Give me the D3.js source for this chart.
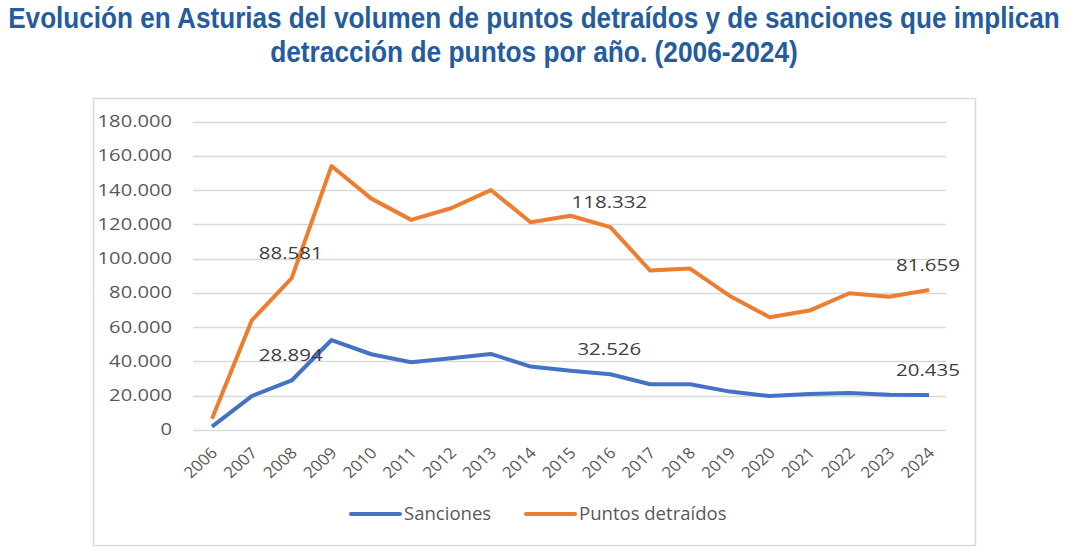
<!DOCTYPE html>
<html>
<head>
<meta charset="utf-8">
<script src="https://cdn.jsdelivr.net/npm/d3@7"></script>
<style>
  body { margin: 0; background: #fff; }
  svg { display: block; }
</style>
</head>
<body>
<div id="chart"></div>
<script>
// Data
var years = ["2006", "2007", "2008", "2009", "2010", "2011", "2012", "2013", "2014", "2015",
             "2016", "2017", "2018", "2019", "2020", "2021", "2022", "2023", "2024"];
var sanciones = [2000, 19800, 28894, 52500, 44200, 39500, 41800, 44400, 37000, 34600,
                 32526, 26700, 26700, 22400, 19800, 21000, 21600, 20600, 20435];
var puntos = [6500, 64000, 88581, 154000, 135000, 122600, 129400, 140000, 121200, 125000,
              118332, 93000, 94200, 78200, 65800, 69700, 79800, 77800, 81659];
var yTicks = [0, 20000, 40000, 60000, 80000, 100000, 120000, 140000, 160000, 180000];
var labelYears = ["2008", "2016", "2024"];

var w = 1075;
var h = 560;
var font = "'Open Sans', 'DejaVu Sans', sans-serif";

var svg = d3.select("#chart")
    .append("svg")
    .attr("width", w)
    .attr("height", h);

// Title (condensed bold: squeeze each line sideways to the reference width)
var titleLines = [
    { text: "Evolución en Asturias del volumen de puntos detraídos y de sanciones que implican", y: 28, len: 1052 },
    { text: "detracción de puntos por año. (2006-2024)", y: 62, len: 528 }
];
svg.selectAll("text.title")
    .data(titleLines)
    .enter()
    .append("text")
    .attr("class", "title")
    .attr("text-anchor", "middle")
    .style("font-family", "'Liberation Sans', Arial, sans-serif")
    .style("font-weight", "bold")
    .style("font-size", "30px")
    .style("fill", "#255C9C")
    .text(function(d) { return d.text; })
    .attr("transform", function(d) {
        var natural = this.getComputedTextLength();
        return "translate(534," + d.y + ") scale(" + (d.len / natural) + ",1)";
    });

// Chart frame
svg.append("rect")
    .attr("x", 93.5)
    .attr("y", 98.5)
    .attr("width", 882)
    .attr("height", 447)
    .style("fill", "none")
    .style("stroke", "#d9d9d9")
    .style("stroke-width", 1.5);

var xScale = d3.scalePoint()
    .domain(years)
    .range([212, 929]);

var yScale = d3.scaleLinear()
    .domain([0, 180000])
    .range([430, 121.5]);

var fmt = function(v) {
    return d3.format(",")(v).replace(/,/g, ".");
};

// Gridlines
svg.append("g")
    .selectAll("line")
    .data(yTicks)
    .enter()
    .append("line")
    .attr("x1", 193)
    .attr("x2", 946)
    .attr("y1", function(d) { return Math.round(yScale(d)) + 0.5; })
    .attr("y2", function(d) { return Math.round(yScale(d)) + 0.5; })
    .style("stroke", "#d9d9d9")
    .style("stroke-width", 1.5);

// Y axis labels (the reference text is stretched sideways)
var yAxis = d3.axisLeft(yScale)
    .tickValues(yTicks)
    .tickFormat(fmt)
    .tickSize(0)
    .tickPadding(0);
var yG = svg.append("g")
    .attr("transform", "translate(172,0)")
    .call(yAxis);
yG.select(".domain").remove();
yG.selectAll("text")
    .attr("transform", "scale(1.3,1)")
    .style("font-family", font)
    .style("font-size", "15.5px")
    .style("fill", "#595959");

// X axis labels (rotated)
var xAxis = d3.axisBottom(xScale)
    .tickSize(0)
    .tickPadding(0);
var xG = svg.append("g")
    .attr("transform", "translate(0,430)")
    .call(xAxis);
xG.select(".domain").remove();
xG.selectAll("text")
    .attr("text-anchor", "end")
    .attr("dy", 0)
    .attr("y", 0)
    .attr("transform", "translate(6,24) scale(1.1,1) rotate(-45)")
    .style("font-family", font)
    .style("font-size", "15.5px")
    .style("fill", "#595959");

var series = [
    { name: "Sanciones", values: sanciones, color: "#4472C4" },
    { name: "Puntos detraídos", values: puntos, color: "#ED7D31" }
];

var line = d3.line()
    .x(function(d, i) { return xScale(years[i]); })
    .y(function(d) { return yScale(d); });

svg.selectAll("path.series")
    .data(series)
    .enter()
    .append("path")
    .attr("class", "series")
    .attr("d", function(d) { return line(d.values); })
    .style("fill", "none")
    .style("stroke", function(d) { return d.color; })
    .style("stroke-width", 4)
    .style("stroke-linejoin", "round");

// Data labels
series.forEach(function(s) {
    svg.append("g")
        .selectAll("text")
        .data(labelYears)
        .enter()
        .append("text")
        .attr("transform", function(d) {
            return "translate(" + (xScale(d) - 1) + "," + (yScale(s.values[years.indexOf(d)]) - 19) + ") scale(1.24,1)";
        })
        .attr("text-anchor", "middle")
        .style("font-family", font)
        .style("font-size", "16.5px")
        .style("fill", "#404040")
        .text(function(d) { return fmt(s.values[years.indexOf(d)]); });
});

// Legend
var legend = svg.selectAll("g.legend-item")
    .data(series)
    .enter()
    .append("g")
    .attr("class", "legend-item")
    .attr("transform", function(d, i) {
        return "translate(" + (351 + i * 175) + ",514)";
    });

legend.append("line")
    .attr("x1", 0)
    .attr("x2", 49)
    .style("stroke", function(d) { return d.color; })
    .style("stroke-width", 4)
    .style("stroke-linecap", "round");

legend.append("text")
    .attr("transform", "translate(53,6) scale(1.06,1)")
    .style("font-family", font)
    .style("font-size", "17.5px")
    .style("fill", "#595959")
    .text(function(d) { return d.name; });
</script>
</body>
</html>
